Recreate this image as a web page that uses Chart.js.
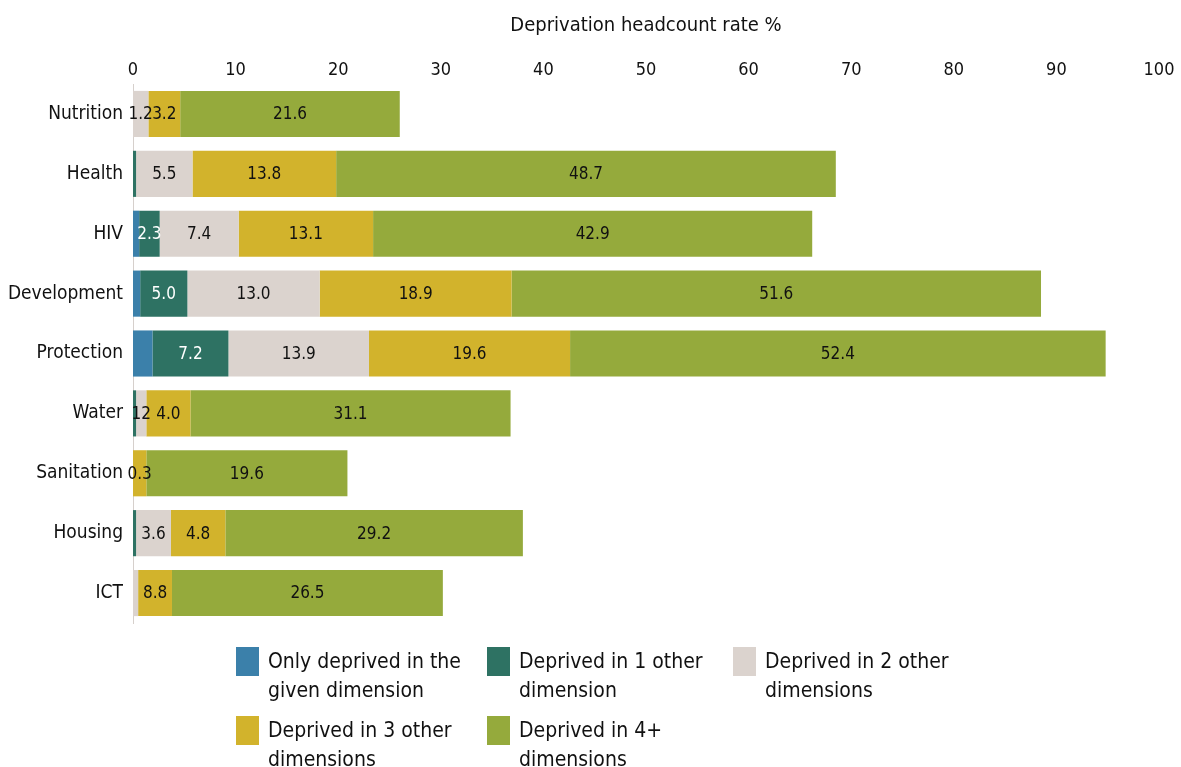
<!DOCTYPE html>
<html>
<head>
<meta charset="utf-8">
<script src="https://cdn.jsdelivr.net/npm/chart.js@4.4.0/dist/chart.umd.min.js"></script>
<style>
  html, body { margin: 0; padding: 0; background: #fff; }
  #wrap { position: relative; width: 1181px; height: 767px; }
  #legend { position: absolute; left: 0; top: 0; width: 1181px; height: 767px; pointer-events: none;
    font-family: 'DejaVu Sans Condensed', 'DejaVu Sans', sans-serif; font-size: 21px; color: #111; }
  .item { position: absolute; }
  .box { position: absolute; left: 0; top: 0; width: 23px; height: 29px; }
  .txt { position: absolute; left: 32px; top: 0px; line-height: 29px; white-space: nowrap; }
</style>
</head>
<body>
<div id="wrap">
  <canvas id="c" width="1181" height="767"></canvas>
  <div id="legend"></div>
</div>
<script>
const FONT = "'DejaVu Sans Condensed', 'DejaVu Sans', sans-serif";

const categories = ['Nutrition', 'Health', 'HIV', 'Development', 'Protection', 'Water', 'Sanitation', 'Housing', 'ICT'];
const xTicks = [0, 10, 20, 30, 40, 50, 60, 70, 80, 90, 100];

const onlyGiven   = [0,    0,    0.6,  0.7,  1.9,  0,    0,    0,    0];
const otherOne    = [0,    0.3,  2.0,  4.6,  7.4,  0.3,  0,    0.3,  0];
const otherTwo    = [1.5,  5.5,  7.7,  12.9, 13.7, 1.0,  0,    3.4,  0.5];
const otherThree  = [3.1,  14.0, 13.1, 18.7, 19.6, 4.3,  1.3,  5.3,  3.3];
const otherFour   = [21.4, 48.7, 42.8, 51.6, 52.2, 31.2, 19.6, 29.0, 26.4];

// segment labels as printed in the source
const onlyGivenText  = [null, null, null, null, null, null, null, null, null];
const otherOneText   = [null, null, '2.3', '5.0', '7.2', null, null, null, null];
const otherTwoText   = ['1.2', '5.5', '7.4', '13.0', '13.9', '12', null, '3.6', null];
const otherThreeText = ['3.2', '13.8', '13.1', '18.9', '19.6', '4.0', '0.3', '4.8', '8.8'];
const otherFourText  = ['21.6', '48.7', '42.9', '51.6', '52.4', '31.1', '19.6', '29.2', '26.5'];

const seriesNames = [
  ['Only deprived in the', 'given dimension'],
  ['Deprived in 1 other', 'dimension'],
  ['Deprived in 2 other', 'dimensions'],
  ['Deprived in 3 other', 'dimensions'],
  ['Deprived in 4+', 'dimensions']
];
const colors = ['#3b80aa', '#2e7263', '#dbd3ce', '#d2b32c', '#95aa3c'];
const textColors = ['#ffffff', '#ffffff', '#111111', '#111111', '#111111'];
const values = [onlyGiven, otherOne, otherTwo, otherThree, otherFour];
const texts = [onlyGivenText, otherOneText, otherTwoText, otherThreeText, otherFourText];

const datasets = values.map((v, i) => ({
  label: seriesNames[i].join(' '),
  data: v,
  backgroundColor: colors[i],
  borderWidth: 0,
  barPercentage: 0.77,
  categoryPercentage: 1.0,
  segTexts: texts[i],
  segTextColor: textColors[i]
}));

const segLabels = {
  id: 'segLabels',
  afterDatasetsDraw(chart) {
    const ctx = chart.ctx;
    ctx.save();
    ctx.font = '17px ' + FONT;
    ctx.textAlign = 'center';
    ctx.textBaseline = 'middle';
    chart.data.datasets.forEach((ds, di) => {
      const meta = chart.getDatasetMeta(di);
      meta.data.forEach((bar, j) => {
        const t = ds.segTexts[j];
        if (!t) return;
        const cx = (bar.x + bar.base) / 2;
        ctx.fillStyle = ds.segTextColor;
        ctx.fillText(t, cx, bar.y + 1);
      });
    });
    ctx.restore();
  }
};

const chart = new Chart(document.getElementById('c'), {
  type: 'bar',
  data: { labels: categories, datasets },
  options: {
    indexAxis: 'y',
    responsive: false,
    animation: false,
    layout: { padding: { top: 10, right: 22, bottom: 144, left: 0 } },
    plugins: { legend: { display: false }, tooltip: { enabled: false } },
    scales: {
      x: {
        position: 'top',
        stacked: true,
        min: 0, max: 100,
        afterBuildTicks(s) { s.ticks = xTicks.map(v => ({ value: v })); },
        afterFit(s) { s.height = 74; },
        grid: { display: false, drawTicks: false },
        border: { display: false },
        ticks: { color: '#111', padding: 3, font: { family: FONT, size: 18 } },
        title: { display: true, text: 'Deprivation headcount rate %', color: '#111',
                 font: { family: FONT, size: 20 }, padding: { top: 4, bottom: 0 } }
      },
      y: {
        stacked: true,
        afterFit(s) { s.width = 133; },
        grid: { display: false, drawTicks: false },
        border: { display: true, color: '#d6d0cc', width: 1 },
        ticks: { color: '#111', padding: 10, font: { family: FONT, size: 19 } }
      }
    }
  },
  plugins: [segLabels]
});

// HTML legend built from the datasets
const legendPos = [[236, 647], [487, 647], [733, 647], [236, 716], [487, 716]];
const lg = document.getElementById('legend');
chart.data.datasets.forEach((ds, i) => {
  const it = document.createElement('div');
  it.className = 'item';
  it.style.left = legendPos[i][0] + 'px';
  it.style.top = legendPos[i][1] + 'px';
  const b = document.createElement('div');
  b.className = 'box';
  b.style.background = ds.backgroundColor;
  const t = document.createElement('div');
  t.className = 'txt';
  t.innerHTML = seriesNames[i].join('<br>');
  it.appendChild(b); it.appendChild(t);
  lg.appendChild(it);
});
</script>
</body>
</html>
